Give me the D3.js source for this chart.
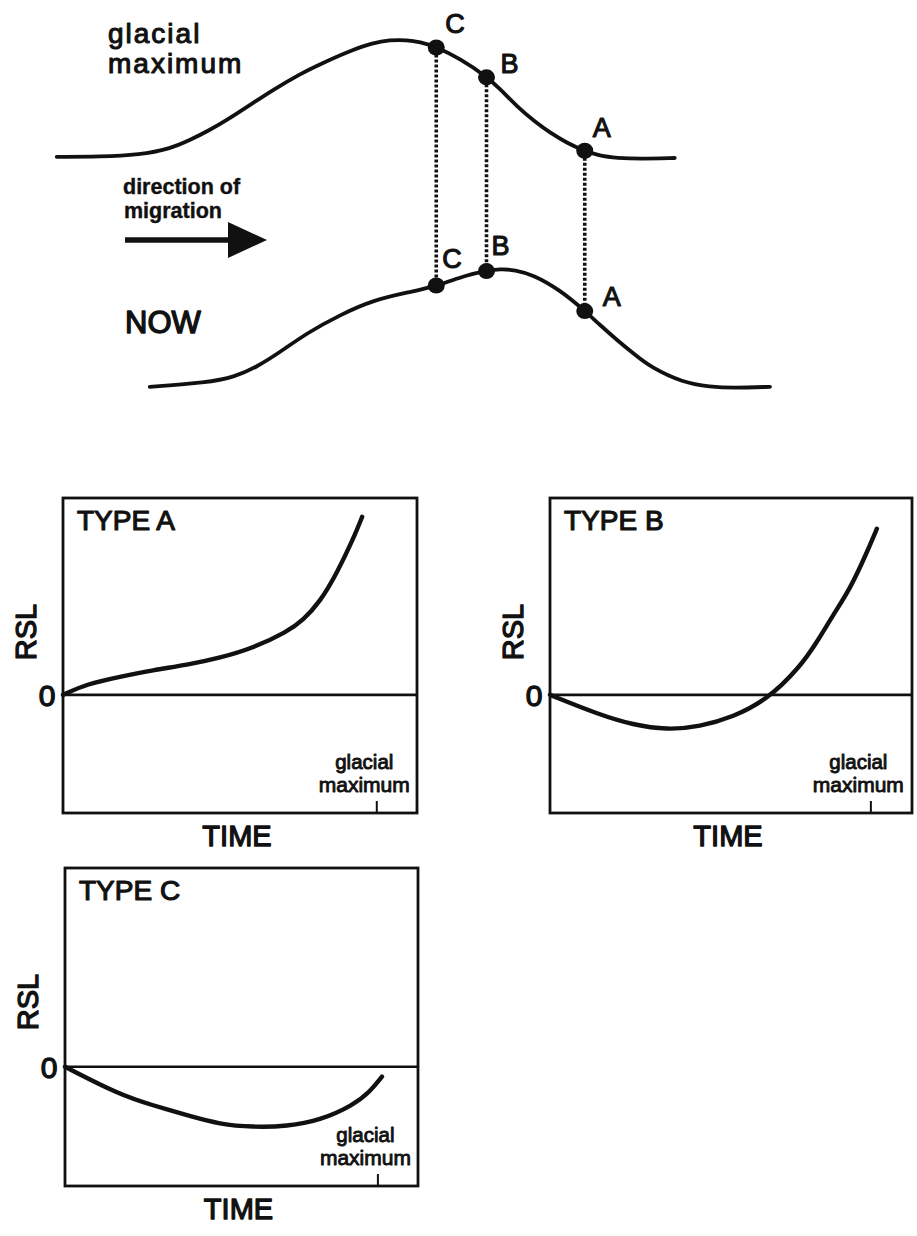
<!DOCTYPE html>
<html>
<head>
<meta charset="utf-8">
<script src="https://cdn.jsdelivr.net/npm/d3@7/dist/d3.min.js"></script>
<style>
  html, body { margin: 0; padding: 0; background: #fff; }
  text { font-family: "Liberation Sans", Arial, Helvetica, sans-serif; fill: #111; stroke: #111; stroke-linejoin: round; }
</style>
</head>
<body>
<script>
// ---------------- DATA ----------------
// Top schematic: profiles (distance, elevation) in arbitrary units
const glacialProfile = [
  [0.9,60.8],[6.7,60.8],[12,61.3],[16,62.8],[18.7,65],[21.3,67.5],[23.6,70],[26.7,73.8],
  [29.7,77.5],[33.3,81.5],[36.4,84.3],[40,87.3],[43.1,89.3],[45.3,90],[47.6,90],[49.3,89.5],
  [51.5,88.3],[54.7,85.3],[58.1,81],[60,77.8],[62.3,73.3],[64.7,69.5],[66.7,66.8],[68.9,64.3],
  [71.2,62.3],[73.3,61],[75.6,60.5],[78.7,60.3],[83.3,60.5]
];
const nowProfile = [
  [13.3,3.3],[20.9,4.3],[24.7,5.8],[27.6,8.3],[30.7,12],[34.3,16.8],[38.7,21.3],[43.1,25],
  [48,27],[51.6,28.5],[55.6,31.3],[58.3,32.3],[60,32.8],[62,32.5],[64.4,31.3],[68,27.5],
  [71.3,22.3],[73.3,18.8],[75.6,15],[78,11.3],[80,8.3],[84.4,4.3],[88,3.3],[91.1,3],[96,3.3]
];
const siteNames = ["C", "B", "A"];
const siteDistance = [51.5, 58.2, 71.3];

// RSL panels: time (0..10, glacial maximum at 8.85) vs relative sea level
const panelNames = ["TYPE A", "TYPE B", "TYPE C"];
const rslTypeA = [[0,0],[0.68,0.28],[1.61,0.46],[2.54,0.63],[3.5,0.76],[4.44,0.94],[5.37,1.19],
  [6.33,1.6],[6.78,1.9],[7.26,2.36],[7.74,3.1],[8.19,3.94],[8.45,4.52]];
const rslTypeB = [[0,0],[1.38,-0.51],[2.29,-0.76],[3.23,-0.89],[4.14,-0.81],[5.06,-0.56],[5.99,-0.13],
  [6.91,0.71],[7.38,1.35],[7.82,2.03],[8.29,2.69],[8.76,3.63],[9.03,4.22]];
const rslTypeC = [[0,0],[1.56,-0.71],[2.49,-0.97],[3.46,-1.22],[4.39,-1.45],[5.33,-1.52],[6.29,-1.5],
  [7.22,-1.35],[8.16,-0.97],[8.64,-0.63],[8.98,-0.25]];
const glacialMaxTime = 8.85;
const yTickLabels = ["0"];
const axisTitles = { x: "TIME", y: "RSL" };

// ---------------- LAYOUT ----------------
const W = 917, H = 1236;
const svg = d3.select("body").append("svg").attr("width", W).attr("height", H);
svg.append("rect").attr("width", W).attr("height", H).attr("fill", "#fff");

// ---- Top schematic ----
const xTop = d3.scaleLinear().domain([0, 100]).range([50, 800]);
const yTop = d3.scaleLinear().domain([0, 100]).range([400, 0]);
const profLine = d3.line().x(d => xTop(d[0])).y(d => yTop(d[1])).curve(d3.curveBasis);

const topG = svg.append("g");
const upperPath = topG.append("path").datum(glacialProfile).attr("d", profLine)
  .attr("fill", "none").attr("stroke", "#111").attr("stroke-width", 3.8).attr("stroke-linecap", "round");
const lowerPath = topG.append("path").datum(nowProfile).attr("d", profLine)
  .attr("fill", "none").attr("stroke", "#111").attr("stroke-width", 3.8).attr("stroke-linecap", "round");

function yAtX(pathNode, px) {
  const L = pathNode.getTotalLength();
  let lo = 0, hi = L;
  for (let i = 0; i < 40; i++) {
    const mid = (lo + hi) / 2;
    if (pathNode.getPointAtLength(mid).x < px) lo = mid; else hi = mid;
  }
  return pathNode.getPointAtLength((lo + hi) / 2).y;
}

const upperLabelOff = [[9,-14],[14,-4],[8,-14]];
const lowerLabelOff = [[6,-18],[5,-16],[18,-5]];

siteDistance.forEach((d, i) => {
  const px = xTop(d);
  const yu = yAtX(upperPath.node(), px);
  const yl = yAtX(lowerPath.node(), px);
  topG.append("line").attr("x1", px).attr("x2", px).attr("y1", yu + 7).attr("y2", yl - 6)
    .attr("stroke", "#111").attr("stroke-width", 3.6).attr("stroke-dasharray", "3,2");
  [[yu, upperLabelOff[i]], [yl, lowerLabelOff[i]]].forEach(([yy, off]) => {
    topG.append("ellipse").attr("cx", px).attr("cy", yy).attr("rx", 8.5).attr("ry", 8)
      .attr("fill", "#111");
    topG.append("text").attr("x", px + off[0]).attr("y", yy + off[1])
      .attr("font-size", 27).attr("stroke-width", 1.1).text(siteNames[i]);
  });
});

topG.append("text").attr("x", 108).attr("y", 43).attr("font-size", 28).attr("letter-spacing", 2)
  .attr("stroke-width", 1.1).text("glacial");
topG.append("text").attr("x", 108).attr("y", 73).attr("font-size", 28).attr("letter-spacing", 2)
  .attr("stroke-width", 1.1).text("maximum");
topG.append("text").attr("x", 123).attr("y", 194).attr("font-size", 21.5).attr("font-weight", "bold")
  .attr("stroke-width", 0.4).text("direction of");
topG.append("text").attr("x", 124).attr("y", 218).attr("font-size", 21.5).attr("font-weight", "bold")
  .attr("stroke-width", 0.4).text("migration");
topG.append("line").attr("x1", 125).attr("x2", 232).attr("y1", 240).attr("y2", 240)
  .attr("stroke", "#111").attr("stroke-width", 5.5);
topG.append("path").attr("d", "M228,222 L267,240 L228,258 Z").attr("fill", "#111");
topG.append("text").attr("x", 125).attr("y", 333).attr("font-size", 31).attr("stroke-width", 1.4)
  .text("NOW");

// ---- RSL panels ----
const panels = [
  { name: panelNames[0], data: rslTypeA, x: 63, y: 498, w: 354, h: 315 },
  { name: panelNames[1], data: rslTypeB, x: 550, y: 498, w: 362, h: 315 },
  { name: panelNames[2], data: rslTypeC, x: 65, y: 868, w: 353, h: 318 }
];

panels.forEach(p => {
  const g = svg.append("g");
  const x = d3.scaleLinear().domain([0, 10]).range([p.x, p.x + p.w]);
  const y = d3.scaleLinear().domain([-3, 5]).range([p.y + p.h, p.y]);

  const ax = g.append("g").attr("transform", `translate(0,${p.y + p.h})`)
    .call(d3.axisBottom(x).tickValues([glacialMaxTime]).tickSizeInner(-12).tickSizeOuter(0).tickFormat(""));
  ax.select(".domain").remove();
  ax.selectAll("line").attr("stroke", "#111").attr("stroke-width", 2);

  g.append("line").attr("x1", x(0)).attr("x2", x(10)).attr("y1", y(0)).attr("y2", y(0))
    .attr("stroke", "#111").attr("stroke-width", 2.6);

  g.append("path").datum(p.data)
    .attr("d", d3.line().x(d => x(d[0])).y(d => y(d[1])).curve(d3.curveBasis))
    .attr("fill", "none").attr("stroke", "#111").attr("stroke-width", 4.4).attr("stroke-linecap", "round");

  g.append("rect").attr("x", p.x).attr("y", p.y).attr("width", p.w).attr("height", p.h)
    .attr("fill", "none").attr("stroke", "#111").attr("stroke-width", 2.8);

  g.append("text").attr("x", p.x + 14).attr("y", p.y + 32).attr("font-size", 28)
    .attr("stroke-width", 1.2).text(p.name);
  g.append("text").attr("x", p.x - 16).attr("y", y(0) + 11).attr("text-anchor", "middle")
    .attr("font-size", 30).attr("stroke-width", 1.3).text(yTickLabels[0]);
  g.append("text").attr("transform", `translate(${p.x - 27},${p.y + 134}) rotate(-90)`)
    .attr("text-anchor", "middle").attr("font-size", 29).attr("stroke-width", 1.3).text(axisTitles.y);
  g.append("text").attr("x", p.x + p.w / 2 - 3).attr("y", p.y + p.h + 33).attr("text-anchor", "middle")
    .attr("font-size", 29).attr("stroke-width", 1.3).text(axisTitles.x);
  const gx = x(glacialMaxTime) - 12;
  g.append("text").attr("x", gx).attr("y", p.y + p.h - 44).attr("text-anchor", "middle")
    .attr("font-size", 20.5).attr("stroke-width", 0.9).text("glacial");
  g.append("text").attr("x", gx).attr("y", p.y + p.h - 21).attr("text-anchor", "middle")
    .attr("font-size", 21).attr("stroke-width", 0.9).text("maximum");
});
</script>
</body>
</html>
